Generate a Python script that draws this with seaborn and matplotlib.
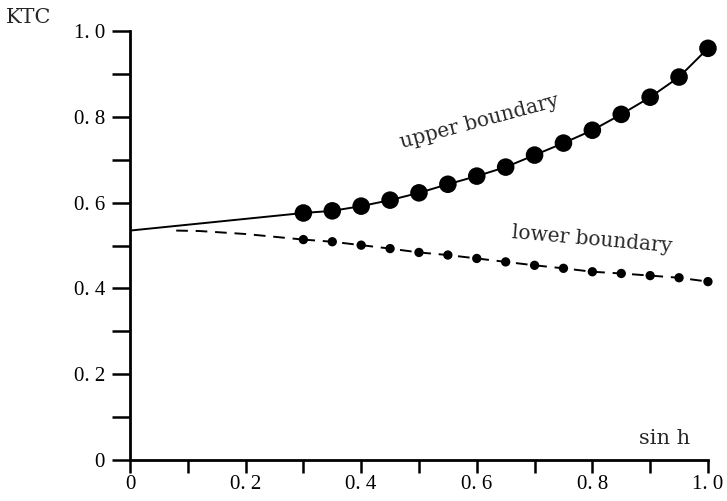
import numpy as np
import pandas as pd
import matplotlib
matplotlib.use("Agg")
import matplotlib.pyplot as plt
import seaborn as sns
from matplotlib.ticker import MultipleLocator, FixedLocator

# sin h sample positions
sin_h = [0.30, 0.35, 0.40, 0.45, 0.50, 0.55, 0.60, 0.65, 0.70, 0.75,
         0.80, 0.85, 0.90, 0.95, 1.00]
upper_ktc = [0.576, 0.581, 0.592, 0.606, 0.623, 0.643, 0.662, 0.683, 0.711,
             0.739, 0.769, 0.806, 0.846, 0.893, 0.960]
lower_ktc = [0.514, 0.509, 0.501, 0.493, 0.484, 0.478, 0.470, 0.462, 0.454,
             0.447, 0.439, 0.435, 0.430, 0.425, 0.416]

# extrapolated branches towards sin h = 0
upper_ext_x = [0.0, 0.30]
upper_ext_y = [0.535, 0.576]
lower_ext_x = [0.08, 0.12, 0.20, 0.30]
lower_ext_y = [0.535, 0.534, 0.527, 0.514]

x_ticks = [0, 0.2, 0.4, 0.6, 0.8, 1.0]
x_tick_labels = ["0", "0. 2", "0. 4", "0. 6", "0. 8", "1. 0"]
y_ticks = [0, 0.2, 0.4, 0.6, 0.8, 1.0]
y_tick_labels = ["0", "0. 2", "0. 4", "0. 6", "0. 8", "1. 0"]

sns.set_style("ticks")
plt.rcParams["font.family"] = ["Liberation Serif", "DejaVu Serif"]

fig = plt.figure(figsize=(7.27, 5.01), dpi=100)
ax = fig.add_axes([0.1788, 0.0818, 0.795, 0.856])

df_up = pd.DataFrame({"x": sin_h, "y": upper_ktc})
df_lo = pd.DataFrame({"x": sin_h, "y": lower_ktc})

sns.lineplot(x=upper_ext_x, y=upper_ext_y, ax=ax, color="black", lw=1.4)
sns.lineplot(x=lower_ext_x, y=lower_ext_y, ax=ax, color="black", lw=1.4,
             linestyle=(0, (6, 4)))
sns.lineplot(data=df_up, x="x", y="y", ax=ax, color="black", lw=1.4)
sns.lineplot(data=df_lo, x="x", y="y", ax=ax, color="black", lw=1.4,
             linestyle=(0, (6, 4)))
sns.scatterplot(data=df_up, x="x", y="y", ax=ax, color="black", s=160,
                edgecolor="none", zorder=5, clip_on=False)
sns.scatterplot(data=df_lo, x="x", y="y", ax=ax, color="black", s=45,
                edgecolor="none", zorder=5, clip_on=False)

ax.set_xlim(0, 1.0)
ax.set_ylim(0, 1.0)
ax.xaxis.set_major_locator(FixedLocator(x_ticks))
ax.yaxis.set_major_locator(FixedLocator(y_ticks))
ax.set_xticklabels(x_tick_labels)
ax.set_yticklabels(y_tick_labels)
ax.xaxis.set_minor_locator(MultipleLocator(0.1))
ax.yaxis.set_minor_locator(MultipleLocator(0.1))
ax.tick_params(axis="y", which="both", direction="out", length=13,
               width=1.8, labelsize=15, colors="black", pad=5)
ax.tick_params(axis="x", which="both", direction="out", length=9,
               width=1.8, labelsize=15, colors="black", pad=2)
ax.set_xlabel("")
ax.set_ylabel("")
sns.despine(ax=ax)
for side in ("left", "bottom"):
    ax.spines[side].set_linewidth(2)
    ax.spines[side].set_color("black")

fig.text(0.008, 0.966, "KTC", fontsize=15, ha="left", va="center",
         family="DejaVu Serif")
ax.text(0.925, 0.05, "sin h", fontsize=15, ha="center", va="center",
        transform=ax.transAxes, family="DejaVu Serif")
ax.text(0.605, 0.79, "upper boundary", fontsize=14.5, rotation=15,
        ha="center", va="center", family="DejaVu Serif")
ax.text(0.80, 0.513, "lower boundary", fontsize=14.5, rotation=-5,
        ha="center", va="center", family="DejaVu Serif")

fig.savefig("out.png", dpi=100)
